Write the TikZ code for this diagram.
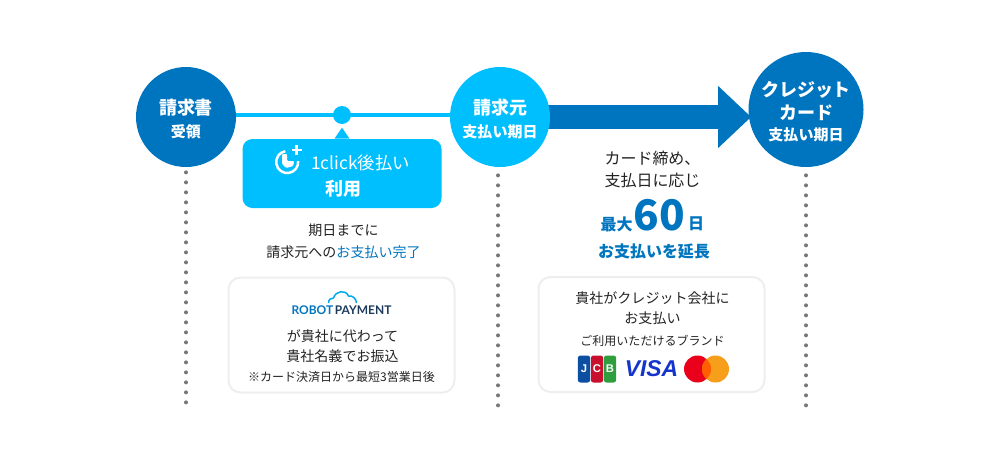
\documentclass[tikz,border=0pt]{standalone}
\usepackage{xcolor}
\usepackage{fontspec}
\setmainfont{Noto Sans CJK JP}
\newfontfamily\logofont{Liberation Sans}
\newfontfamily\robotfont{Lato}
\usetikzlibrary{arrows.meta, backgrounds}
\definecolor{deepblue}{HTML}{0075BF}
\definecolor{skyblue}{HTML}{00BFFF}
\definecolor{inktext}{HTML}{222222}
\definecolor{cardline}{HTML}{EEEEEE}
\definecolor{dotgray}{HTML}{777777}
\definecolor{navylogo}{HTML}{1B3A5C}
\definecolor{visablue}{HTML}{1434CB}
\definecolor{jcbblue}{HTML}{0B4EA2}
\definecolor{jcbred}{HTML}{C8102E}
\definecolor{jcbgreen}{HTML}{2E9E3F}
\definecolor{mcred}{HTML}{EB001B}
\definecolor{mcorange}{HTML}{F79E1B}
\definecolor{mclens}{HTML}{FF5F00}
\tikzstyle{stepdeep} = [circle, minimum size=2cm, inner sep=0pt, fill=deepblue, text=white, align=center, font=\fontsize{10.24}{13}\selectfont\bfseries]
\tikzstyle{stepsky} = [stepdeep, fill=skyblue]
\tikzstyle{clickbox} = [rectangle, rounded corners=0.2cm, minimum width=3.98cm, minimum height=1.38cm, fill=skyblue]
\tikzstyle{whitecard} = [rectangle, rounded corners=0.24cm, minimum width=4.52cm, minimum height=2.3cm, draw=cardline, line width=0.04cm]
\tikzstyle{body} = [inner sep=0pt, align=center, text=inktext, font=\fontsize{7.97}{12.47}\selectfont]
\tikzstyle{small} = [inner sep=0pt, align=center, text=inktext, font=\fontsize{6.83}{10}\selectfont]
\tikzstyle{strong} = [inner sep=0pt, text=deepblue, font=\fontsize{9.1}{12}\selectfont\bfseries]
\tikzstyle{dotline} = [line width=0.08cm, line cap=round, dash pattern=on 0pt off 0.2cm, dotgray]
\tikzstyle{jcbbar} = [rectangle, rounded corners=0.05cm, minimum width=0.245cm, minimum height=0.54cm, inner sep=0pt, text=white, font=\logofont\fontsize{6.4}{7}\selectfont\bfseries]
\tikzstyle{mcdisc} = [circle, minimum size=0.54cm, inner sep=0pt]

\begin{document}
\begin{tikzpicture}[node distance=1cm]
	\useasboundingbox (-3.72,2.34) rectangle (16.28,-6.92);

	% Nodes for the three steps
	\node (receipt) [stepdeep] {\rule{0pt}{11.5pt}請求書\\{\fontsize{8.54}{13}\selectfont 受領}};
	\node (issuer) [stepsky, right of=receipt, xshift=5.28cm] {\rule{0pt}{11.5pt}請求元\\{\fontsize{8.54}{13}\selectfont 支払い期日}};
	\node (cardpay) [stepdeep, minimum size=2.3cm, right of=issuer, xshift=5.12cm, yshift=0.15cm] {\rule{0pt}{11.5pt}クレジット\\カード\\[-1pt]{\fontsize{8.54}{13}\selectfont 支払い期日}};

	% Nodes for 1click
	\node (junction) [circle, minimum size=0.36cm, inner sep=0pt, fill=skyblue, right of=receipt, xshift=2.12cm, yshift=0.04cm] {};
	\node (clickpanel) [clickbox, below of=junction, yshift=-0.17cm] {};
	\node (clicktitle) [inner sep=0pt, text=white, font=\fontsize{9.9}{12}\selectfont, above of=clickpanel, xshift=0.37cm, yshift=-0.79cm] {1click後払い};
	\node (clickuse) [inner sep=0pt, text=white, font=\fontsize{10.24}{12}\selectfont\bfseries, below of=clickpanel, xshift=0.02cm, yshift=0.69cm] {利用};
	\node (duetext) [body, below of=clickpanel, xshift=0.03cm, yshift=-0.35cm] {期日までに\\請求元への{\color{deepblue}お支払い完了}};

	% Nodes for first card
	\node (robotcard) [whitecard, below of=duetext, xshift=-0.04cm, yshift=-0.88cm] {};
	\node (robotlogo) [inner sep=0pt, font=\robotfont\fontsize{6.8}{9}\selectfont\bfseries, above of=robotcard, yshift=-0.5cm] {{\color{deepblue}ROBOT}\hspace{1pt}{\color{navylogo}PAYMENT}};
	\node (robotnote) [body, font=\fontsize{7.97}{11.34}\selectfont, below of=robotcard, xshift=0.02cm, yshift=0.78cm] {が貴社に代わって\\貴社名義でお振込};
	\node (robotterm) [small, below of=robotcard, yshift=0.16cm] {※カード決済日から最短3営業日後};

	% Nodes for the extension
	\node (payterm) [body, font=\fontsize{9.1}{12.47}\selectfont, right of=issuer, xshift=2.05cm, yshift=-1.04cm] {カード締め、\\支払日に応じ};
	\node (sixty) [inner sep=0pt, text=deepblue, font=\fontsize{24}{30}\selectfont\bfseries, below of=payterm, xshift=0.14cm, yshift=0.08cm] {60};
	\node (maxword) [strong, left of=sixty, xshift=0.14cm, yshift=-0.18cm] {最大};
	\node (dayword) [strong, right of=sixty, xshift=-0.27cm, yshift=-0.18cm] {日};
	\node (extension) [strong, below of=sixty, xshift=-0.11cm, yshift=0.28cm] {お支払いを延長};

	% Nodes for second card
	\node (brandcard) [whitecard, below of=extension, xshift=-0.05cm, yshift=-0.67cm] {};
	\node (brandnote) [body, font=\fontsize{7.97}{11.34}\selectfont, above of=brandcard, xshift=0.02cm, yshift=-0.47cm] {貴社がクレジット会社に\\お支払い};
	\node (brandtitle) [small, below of=brandcard, xshift=0.02cm, yshift=0.87cm] {ご利用いただけるブランド};
	\node (visa) [inner sep=0pt, text=visablue, font=\logofont\fontsize{13}{15}\selectfont\bfseries\itshape, below of=brandcard, yshift=0.31cm] {VISA};
	\node (jcbc) [jcbbar, fill=jcbred, left of=visa, xshift=-0.09cm] {C};
	\node (jcbj) [jcbbar, fill=jcbblue, left of=jcbc, xshift=0.74cm] {J};
	\node (jcbb) [jcbbar, fill=jcbgreen, right of=jcbc, xshift=-0.74cm] {B};
	\node (mcleft) [mcdisc, fill=mcred, right of=visa, xshift=-0.08cm] {};
	\node (mcright) [mcdisc, fill=mcorange, right of=mcleft, xshift=-0.64cm] {};
	\begin{scope}
		\clip (mcleft) circle (0.27cm);
		\fill [mclens] (mcright) circle (0.27cm);
	\end{scope}

	% Free ends of the dotted lines
	\coordinate [below of=receipt, yshift=-4.72cm] (receiptend);
	\coordinate [below of=issuer, xshift=-0.04cm, yshift=-4.78cm] (issuerend);
	\coordinate [below of=cardpay, yshift=-4.93cm] (cardpayend);

	% Dotted lines
	\draw [dotline, shorten <=0.1cm] (receipt.south) -- (receiptend);
	\draw [dotline, shorten <=0.16cm] (issuer.south -| issuerend) -- (issuerend);
	\draw [dotline, shorten <=0.16cm] (cardpay.south) -- (cardpayend);

	% Arrows behind the steps
	\begin{scope}[on background layer]
		\draw [skyblue, line width=0.09cm] (junction -| receipt) -- (junction -| issuer);
		\draw [deepblue, line width=0.48cm, -{Triangle[length=0.66cm,width=1.2cm]}, shorten >=-0.06cm] (issuer.center) -- (issuer.center -| cardpay.west);
	\end{scope}

	% Pointer of the panel
	\fill [skyblue] (clickpanel.north) ++(-0.15,0) -- ++(0.15,0.22) -- ++(0.15,-0.22) -- cycle;

	% Icon of the panel
	\begin{scope}[shift={(clicktitle.west)}, xshift=-0.47cm, yshift=0.02cm, x=0.02cm, y=-0.02cm]
		\draw [white, line width=0.05cm] (-1.9,-10.8) arc [start angle=100, delta angle=265, radius=0.22cm];
		\fill [white, rounded corners=0.02cm] (-5,-8) -- (0,-8) -- (0,-1) -- (7,-1) -- (6,4) -- (-1,6) -- (-5,2) -- cycle;
		\draw [white, line width=0.05cm] (9.5,-17) -- (9.5,-7) (4.5,-12) -- (14.5,-12);
	\end{scope}

	% Cloud of the logo
	\begin{scope}[shift={(robotlogo.center)}, x=0.02cm, y=-0.02cm]
		\draw [skyblue!70!deepblue, line width=0.03cm] (-13,-7) .. controls (-13,-11) and (-10,-12) .. (-8,-12) .. controls (-6,-19) and (4,-21) .. (7,-14) .. controls (11,-15) and (15,-11) .. (15,-7);
	\end{scope}

\end{tikzpicture}
\end{document}
